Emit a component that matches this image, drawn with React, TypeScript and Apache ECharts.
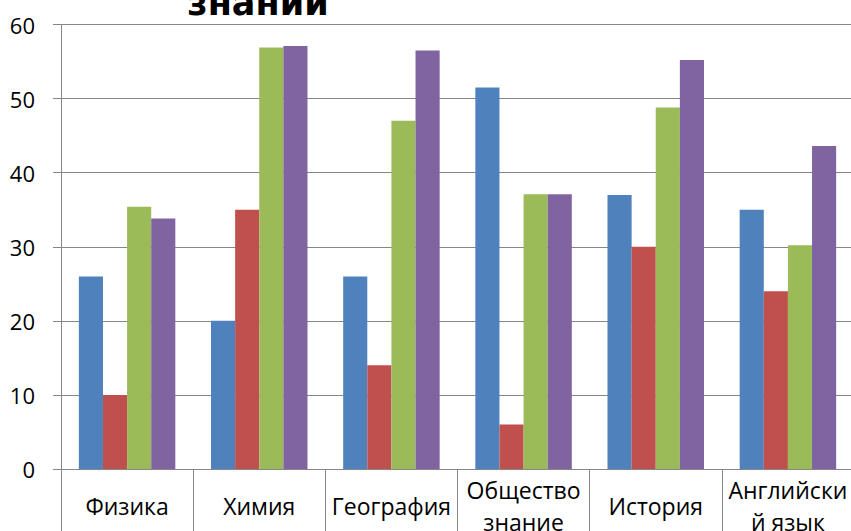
import React, { useEffect, useRef } from "react";
import * as echarts from "echarts";

const categories = ["Физика", "Химия", "География", "Общество\nзнание", "История", "Английски\nй язык"];
const seriesNames = ["Ряд1", "Ряд2", "Ряд3", "Ряд4"];
const blueValues = [26, 20, 26, 51.5, 37, 35];
const redValues = [10, 35, 14, 6, 30, 24];
const greenValues = [35.4, 56.9, 47, 37.1, 48.8, 30.2];
const purpleValues = [33.8, 57.1, 56.5, 37.1, 55.2, 43.6];
const colors = ["#4F81BD", "#C0504D", "#9BBB59", "#8064A2"];
const titleText = "знаний";

export default function App() {
  const ref = useRef<HTMLDivElement>(null);
  useEffect(() => {
    if (!ref.current) return;
    const chart = echarts.init(ref.current, null, { renderer: "svg", width: 851, height: 531 });
    const grey = "#868686";
    const allValues = [blueValues, redValues, greenValues, purpleValues];
    chart.setOption({
      animation: false,
      backgroundColor: "#ffffff",
      textStyle: { fontFamily: "Open Sans" },
      grid: {
        left: 61,
        top: 24.5,
        right: -3,
        bottom: 62,
        containLabel: false,
        outerBoundsMode: "none",
      },
      graphic: [
        {
          type: "text",
          x: 258,
          y: 2.5,
          style: {
            text: titleText,
            x: 0,
            y: 0,
            align: "center",
            verticalAlign: "middle",
            font: "bold 35px 'DejaVu Sans'",
            fill: "#000000",
          },
        },
      ],
      xAxis: {
        type: "category",
        data: categories,
        boundaryGap: true,
        axisLine: { show: true, lineStyle: { color: grey, width: 1 } },
        axisTick: { show: true, length: 62, lineStyle: { color: grey, width: 1 } },
        axisLabel: {
          interval: 0,
          color: "#000000",
          fontSize: 23,
          fontFamily: "Open Sans",
          margin: 37,
          verticalAlign: "middle",
          lineHeight: 32,
        },
        splitLine: { show: false },
      },
      yAxis: {
        type: "value",
        min: 0,
        max: 60,
        interval: 10,
        axisLine: { show: true, lineStyle: { color: grey, width: 1 } },
        axisTick: { show: true, length: 8, lineStyle: { color: grey, width: 1 } },
        axisLabel: { color: "#000000", fontSize: 22, fontFamily: "Open Sans", margin: 26 },
        splitLine: { show: true, lineStyle: { color: grey, width: 1 } },
      },
      series: allValues.map((vals, i) => ({
        type: "bar",
        name: seriesNames[i],
        data: vals,
        barGap: "0%",
        barCategoryGap: "27%",
        itemStyle: { color: colors[i] },
      })),
    });
    return () => chart.dispose();
  }, []);
  return <div ref={ref} style={{ position: "fixed", left: 0, top: 0, width: 851, height: 531 }} />;
}
